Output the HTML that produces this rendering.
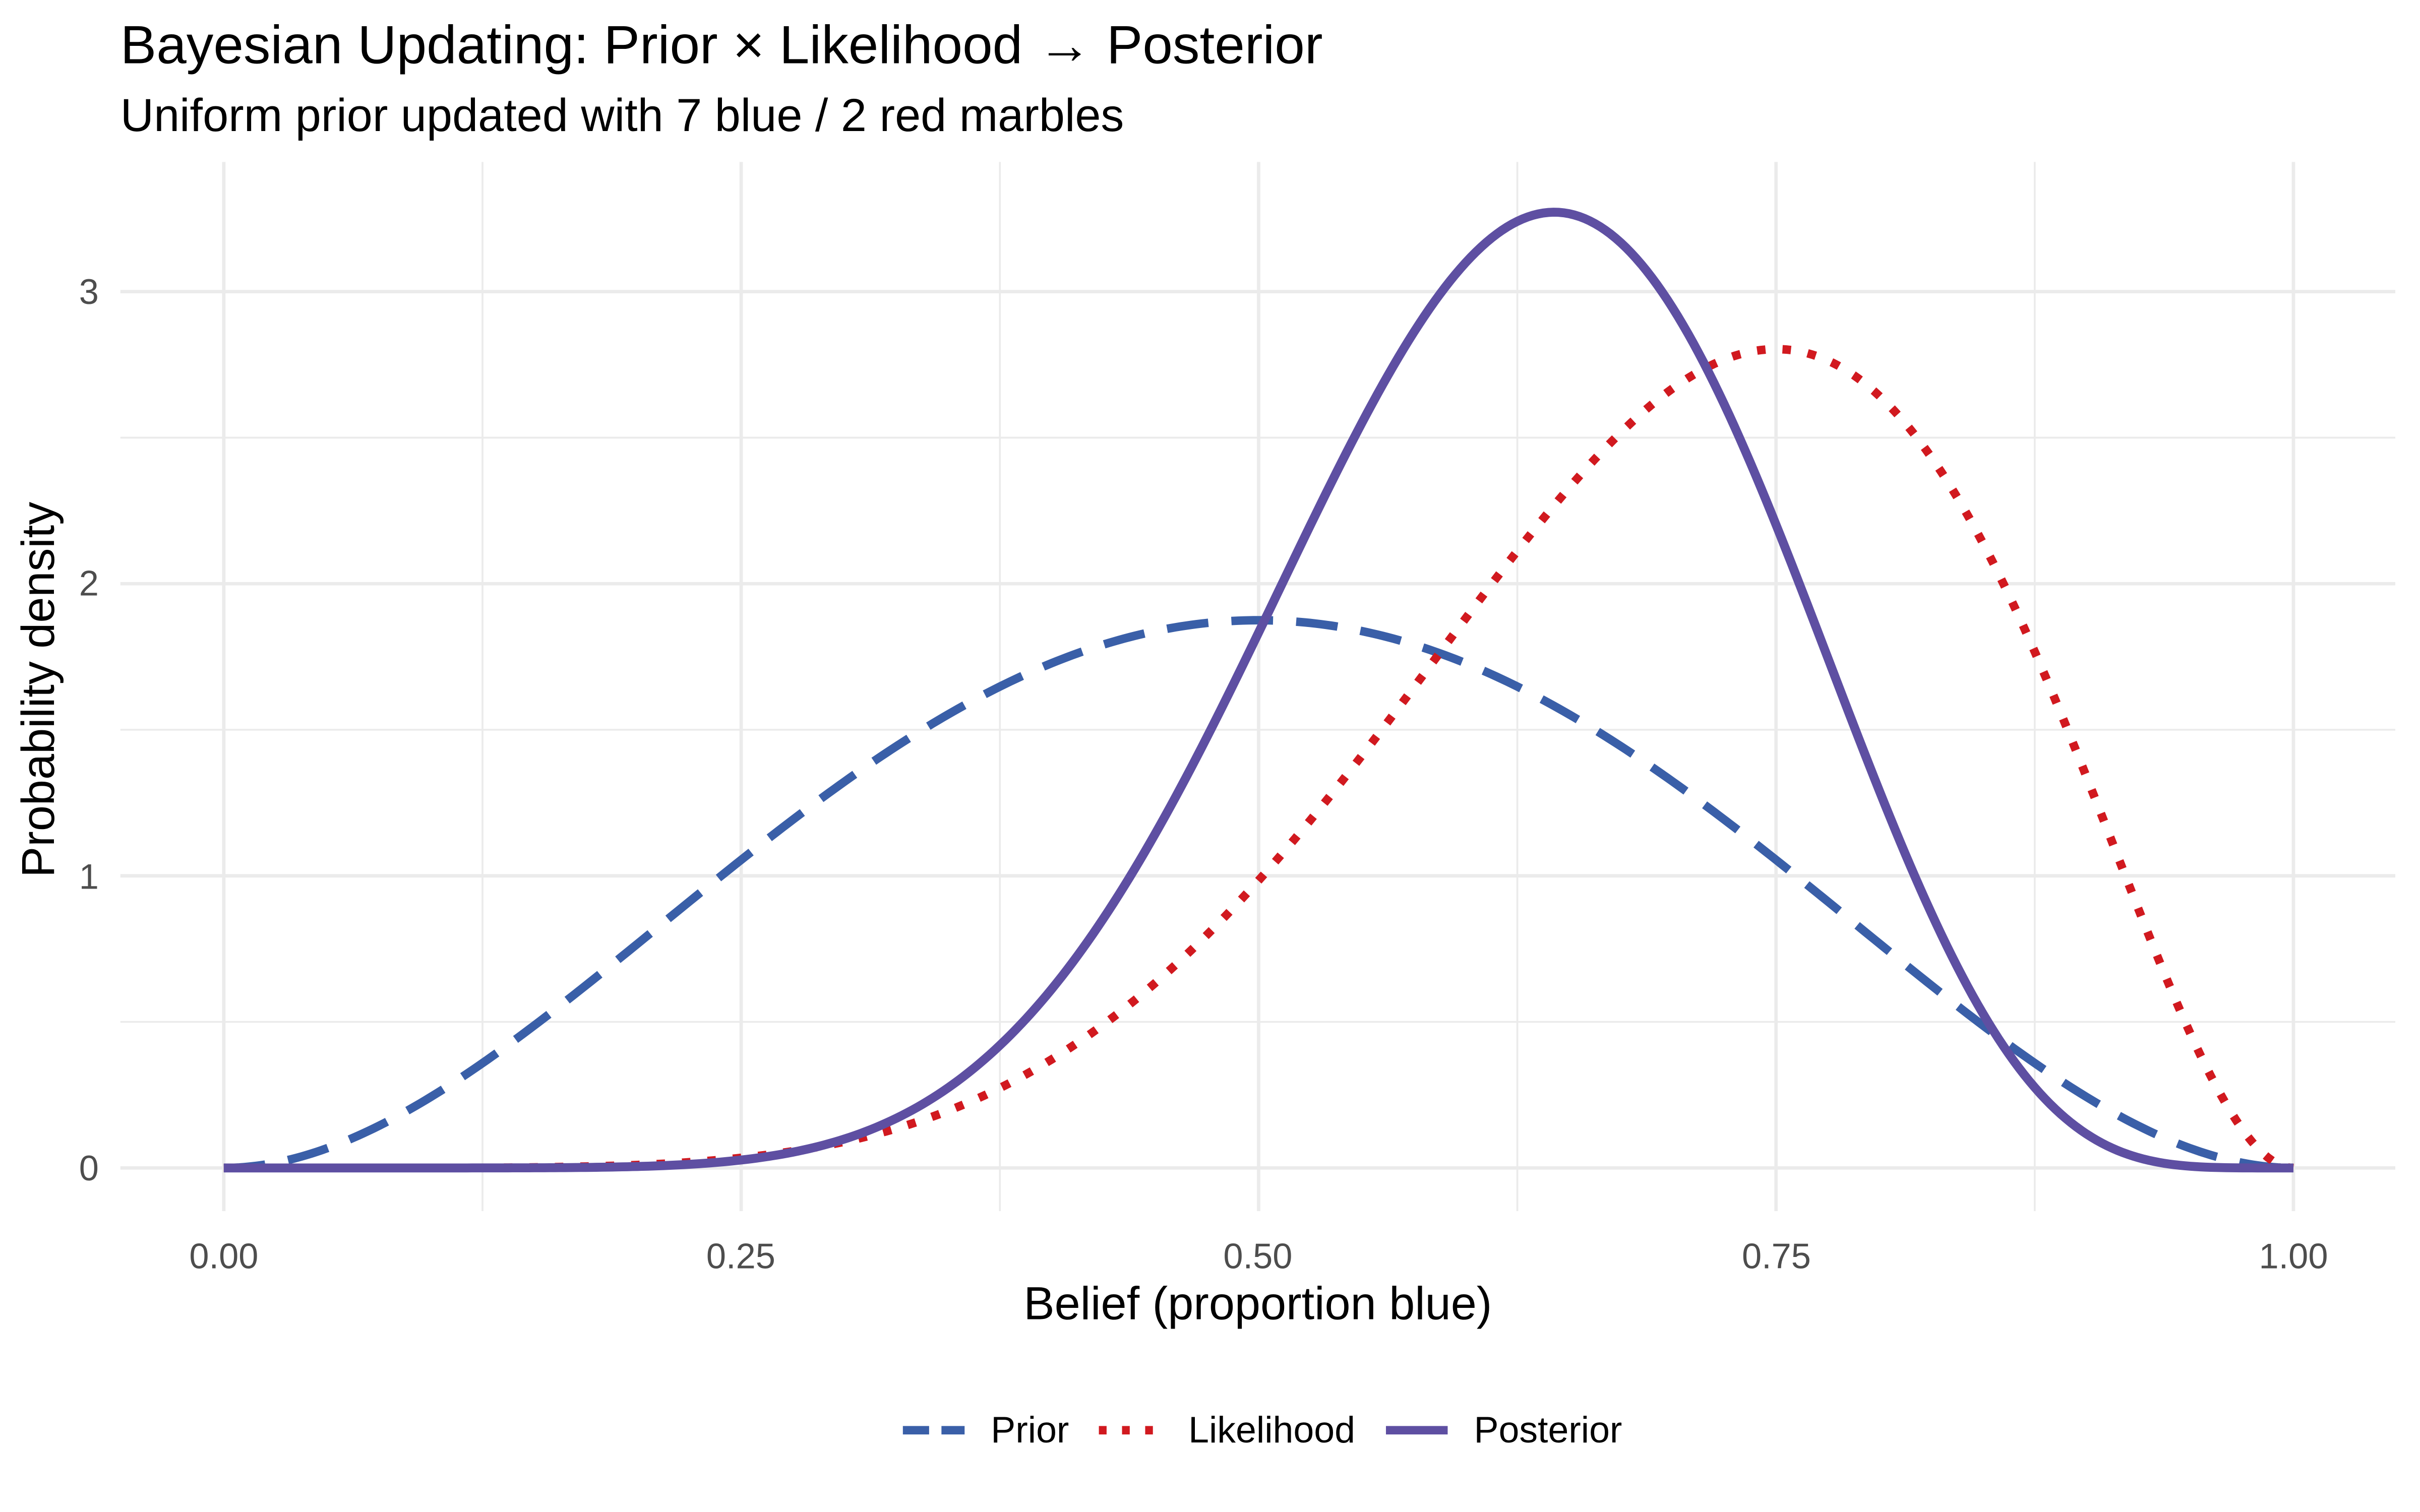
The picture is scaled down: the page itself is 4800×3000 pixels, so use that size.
<!DOCTYPE html>
<html><head><meta charset="utf-8">
<style>
html,body{margin:0;padding:0;background:#fff;}
svg{display:block;}
text{font-family:"Liberation Sans","DejaVu Sans",sans-serif;}
</style></head>
<body>
<svg id="s" width="4800" height="3000" viewBox="0 0 1568 980" xmlns="http://www.w3.org/2000/svg">
<rect width="1568" height="980" fill="#fff"/>
<g id="grid"></g>
<g id="curves"></g>
<text x="78" y="41" font-size="35" fill="#000">Bayesian Updating: Prior × Likelihood → Posterior</text>
<text x="78" y="85" font-size="30" fill="#000">Uniform prior updated with 7 blue / 2 red marbles</text>
<g font-size="23" fill="#4d4d4d" text-anchor="end">
<text x="64" y="765">0</text>
<text x="64" y="576">1</text>
<text x="64" y="386">2</text>
<text x="64" y="197">3</text>
</g>
<g font-size="23" fill="#4d4d4d" text-anchor="middle">
<text x="145" y="822">0.00</text>
<text x="480" y="822">0.25</text>
<text x="815" y="822">0.50</text>
<text x="1151" y="822">0.75</text>
<text x="1486" y="822">1.00</text>
</g>
<text x="815" y="855" font-size="30" text-anchor="middle" fill="#000">Belief (proportion blue)</text>
<text transform="translate(35,447) rotate(-90)" font-size="30" text-anchor="middle" fill="#000">Probability density</text>
<g>
<line x1="585" y1="927" x2="625" y2="927" stroke="#3A5FA8" stroke-width="5.5" stroke-dasharray="17,8"/>
<text x="642" y="935" font-size="24" fill="#000">Prior</text>
<line x1="712" y1="927" x2="752" y2="927" stroke="#D1191F" stroke-width="5.5" stroke-dasharray="5,10"/>
<text x="770" y="935" font-size="24" fill="#000">Likelihood</text>
<line x1="898" y1="927" x2="938" y2="927" stroke="#5E4FA2" stroke-width="5.5"/>
<text x="955" y="935" font-size="24" fill="#000">Posterior</text>
</g>
</svg>
<script>
(function(){
var NS="http://www.w3.org/2000/svg";
var X0=145,X1=1486,Y0=757,SY=189.33;
function px(x){return X0+(X1-X0)*x;}
function py(y){return Y0-SY*y;}
var g=document.getElementById('grid');
function ln(x1,y1,x2,y2,w){var l=document.createElementNS(NS,'line');l.setAttribute('x1',x1);l.setAttribute('y1',y1);l.setAttribute('x2',x2);l.setAttribute('y2',y2);l.setAttribute('stroke','#EBEBEB');l.setAttribute('stroke-width',w);g.appendChild(l);}
var top=105,bot=785,L=78,R=1552;
[0.125,0.375,0.625,0.875].forEach(function(v){ln(px(v),top,px(v),bot,1.2);});
[0.5,1.5,2.5].forEach(function(v){ln(L,py(v),R,py(v),1.2);});
[0,0.25,0.5,0.75,1].forEach(function(v){ln(px(v),top,px(v),bot,2.2);});
[0,1,2,3].forEach(function(v){ln(L,py(v),R,py(v),2.2);});
var c=document.getElementById('curves');
function curve(f,col,dash,w){var d='';for(var i=0;i<=400;i++){var x=i/400;d+=(i?'L':'M')+px(x).toFixed(2)+','+py(f(x)).toFixed(2);}
var p=document.createElementNS(NS,'path');p.setAttribute('d',d);p.setAttribute('fill','none');p.setAttribute('stroke',col);p.setAttribute('stroke-width',w);if(dash)p.setAttribute('stroke-dasharray',dash);c.appendChild(p);}
curve(function(x){return 30*x*x*(1-x)*(1-x);},'#3A5FA8','27,15',5.5);
curve(function(x){return 252*Math.pow(x,6)*Math.pow(1-x,2);},'#D1191F','5.5,11',5.5);
curve(function(x){return 30030*Math.pow(x,9)*Math.pow(1-x,5);},'#5E4FA2',null,5.8);
})();
</script>
</body></html>
